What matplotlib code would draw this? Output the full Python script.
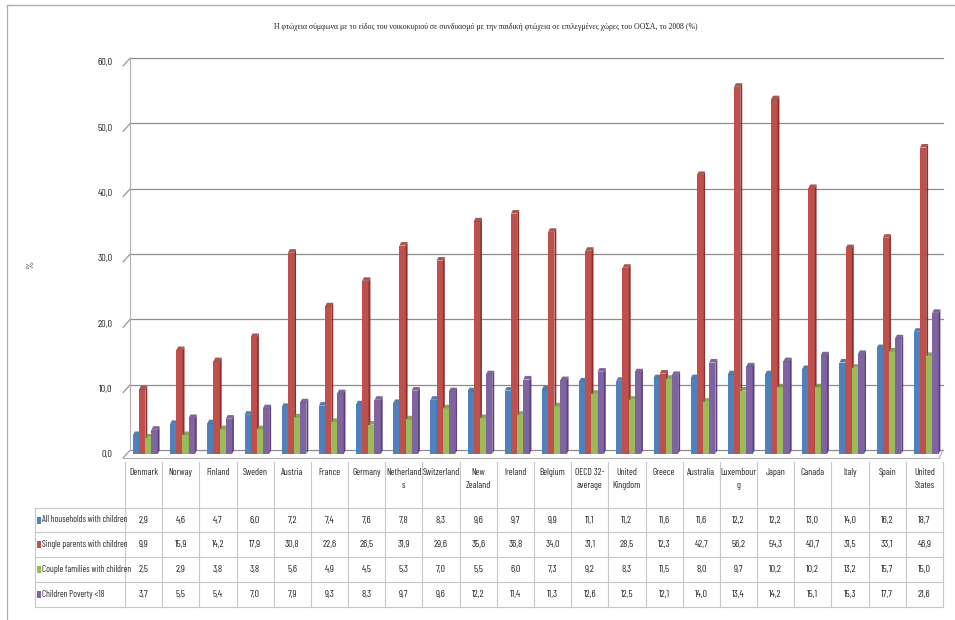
import matplotlib
matplotlib.use("Agg")
import matplotlib.pyplot as plt
from matplotlib.patches import Polygon, Rectangle
from matplotlib.lines import Line2D

countries = ["Denmark", "Norway", "Finland", "Sweden", "Austria", "France", "Germany",
             "Netherland\ns", "Switzerland", "New\nZealand", "Ireland", "Belgium",
             "OECD 32-\naverage", "United\nKingdom", "Greece", "Australia", "Luxembour\ng",
             "Japan", "Canada", "Italy", "Spain", "United\nStates"]
series_names = ["All households with children", "Single parents with children",
                "Couple families with children", "Children Poverty <18"]
all_households = [2.9, 4.6, 4.7, 6.0, 7.2, 7.4, 7.6, 7.8, 8.3, 9.6, 9.7, 9.9, 11.1, 11.2,
                  11.6, 11.6, 12.2, 12.2, 13.0, 14.0, 16.2, 18.7]
single_parents = [9.9, 15.9, 14.2, 17.9, 30.8, 22.6, 26.5, 31.9, 29.6, 35.6, 36.8, 34.0, 31.1,
                  28.5, 12.3, 42.7, 56.2, 54.3, 40.7, 31.5, 33.1, 46.9]
couple_families = [2.5, 2.9, 3.8, 3.8, 5.6, 4.9, 4.5, 5.3, 7.0, 5.5, 6.0, 7.3, 9.2, 8.3,
                   11.5, 8.0, 9.7, 10.2, 10.2, 13.2, 15.7, 15.0]
children_poverty = [3.7, 5.5, 5.4, 7.0, 7.9, 9.3, 8.3, 9.7, 9.6, 12.2, 11.4, 11.3, 12.6, 12.5,
                    12.1, 14.0, 13.4, 14.2, 15.1, 15.3, 17.7, 21.6]
yticks = [0, 10, 20, 30, 40, 50, 60]
title = ("Η φτώχεια σύμφωνα με το είδος του νοικοκυριού σε συνδυασμό με την παιδική "
         "φτώχεια σε επιλεγμένες χώρες του ΟΟΣΑ, το 2008 (%)")

series = [all_households, single_parents, couple_families, children_poverty]
colors = ["#4F81BD", "#C0504D", "#9BBB59", "#8064A2"]
dark = ["#2E5C8F", "#8E2F2C", "#6E8A38", "#5A437A"]

n = len(countries)
W, H = 955, 620
fig = plt.figure(figsize=(W / 100, H / 100), dpi=100)
fig.patch.set_facecolor("white")

cond = ["Barlow Condensed", "DejaVu Sans"]
txt_c = "#262626"

# page frame (left and top edges visible)
fig.add_artist(Line2D([7 / W, 7 / W], [0, 1 - 5 / H], transform=fig.transFigure,
                      color="#AAAAAA", lw=0.9))
fig.add_artist(Line2D([7 / W, 1], [1 - 5 / H, 1 - 5 / H], transform=fig.transFigure,
                      color="#AAAAAA", lw=0.9))

x0, x1 = 125, 943
y0, y1 = 454, 62
ax = fig.add_axes([x0 / W, (H - y0) / H, (x1 - x0) / W, (y0 - y1) / H])
ax.set_xlim(-0.5, n - 0.5)
ax.set_ylim(0, 60)
for s in ax.spines.values():
    s.set_visible(False)
ax.set_xticks([])
ax.set_yticks(yticks)
ax.set_yticklabels([f"{v:.1f}".replace(".", ",") for v in yticks], fontsize=7.5,
                   family=cond, color=txt_c)
ax.tick_params(axis="y", length=0, pad=9)
ax.set_ylabel("%", fontsize=7.5, family=cond, color=txt_c)
ax.yaxis.set_label_coords((35 - x0) / (x1 - x0), (y0 - 265) / (y0 - y1))

# back-wall gridlines (shifted up/right for perspective)
back_dy = 0.6
gc = "#8C8C8C"
for t in yticks:
    ax.plot([-0.36, n - 0.5], [t + back_dy, t + back_dy], color=gc, lw=0.9,
            clip_on=False, zorder=0)
    ax.plot([-0.55, -0.36], [t - 0.6, t + back_dy], color=gc, lw=0.8,
            clip_on=False, zorder=0)
ax.plot([-0.36, -0.36], [back_dy, 60 + back_dy], color="#B0B0B0", lw=0.8, clip_on=False, zorder=0)
ax.plot([-0.55, n - 0.6], [-0.6, -0.6], color="#B0B0B0", lw=0.8, clip_on=False, zorder=0)
ax.plot([n - 0.6, n - 0.5], [-0.6, back_dy], color="#B0B0B0", lw=0.8, clip_on=False, zorder=0)

bw = 0.17
offsets = [-0.2, -0.035, 0.13, 0.295]
dx, dy = 0.05, 0.55
for k, (vals, c, dc) in enumerate(zip(series, colors, dark)):
    xs = [i + offsets[k] for i in range(n)]
    ax.bar(xs, vals, width=bw, color=c, edgecolor="none", zorder=3 + k)
    for x, v in zip(xs, vals):
        xr = x + bw / 2
        xl = x - bw / 2
        ax.add_patch(Polygon([(xr, 0), (xr + dx, dy), (xr + dx, v + dy), (xr, v)],
                             closed=True, facecolor=dc, edgecolor="none", zorder=3 + k))
        ax.add_patch(Polygon([(xl, v), (xl + dx, v + dy), (xr + dx, v + dy), (xr, v)],
                             closed=True, facecolor=dc, edgecolor="none", zorder=3 + k,
                             alpha=0.8))

fig.text(486 / W, 1 - 27 / H, title, ha="center", va="center", fontsize=5.6,
         family=["Liberation Serif", "DejaVu Serif"], color="#222222")

# data table
tab = fig.add_axes([0, 0, 1, 1], zorder=-1)
tab.set_xlim(0, W)
tab.set_ylim(H, 0)
tab.axis("off")
col_w = (x1 - x0) / n
grid_c = "#C8C8C8"
rows_y = [462, 508, 532, 557, 582, 607]
for y in rows_y[1:]:
    tab.plot([35, x1], [y, y], color=grid_c, lw=0.8)
for k in range(n + 1):
    xx = x0 + k * col_w
    tab.plot([xx, xx], [rows_y[0], rows_y[-1]], color=grid_c, lw=0.8)
tab.plot([35, 35], [rows_y[1], rows_y[-1]], color=grid_c, lw=0.8)

for i, name in enumerate(countries):
    cx = x0 + (i + 0.5) * col_w
    tab.text(cx, 468, name, ha="center", va="top", fontsize=6.8, family=cond,
             color=txt_c, linespacing=1.5)
for r, (vals, nm, c) in enumerate(zip(series, series_names, colors)):
    cy = (rows_y[r + 1] + rows_y[r + 2]) / 2
    tab.add_patch(Rectangle((37, cy - 3.5), 4, 7, facecolor=c, edgecolor="none"))
    tab.text(42, cy, nm, ha="left", va="center", fontsize=6.5, family=cond, color=txt_c)
    for i, v in enumerate(vals):
        cx = x0 + (i + 0.5) * col_w
        tab.text(cx, cy, f"{v:.1f}".replace(".", ","), ha="center", va="center",
                 fontsize=7.3, family=cond, color=txt_c)

fig.savefig("out.png", dpi=100)
